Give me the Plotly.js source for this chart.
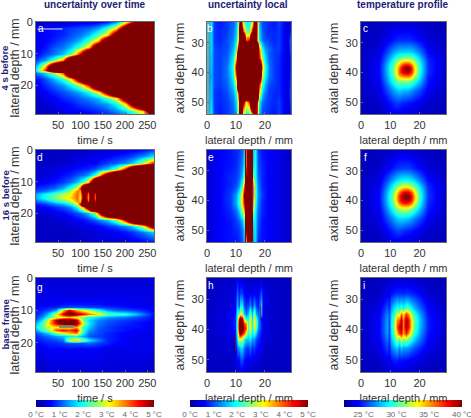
<!DOCTYPE html>
<html><head><meta charset="utf-8">
<script src="https://cdn.plot.ly/plotly-3.0.0.min.js"></script>
<style>html,body{margin:0;padding:0;background:#fff}#c{width:471px;height:418px}</style></head>
<body><div id="c"></div>
<script>
const S=9;
const colTitles=["uncertainty over time","uncertainty local","temperature profile"];
const rowTitles=["4 s before","16 s before","base frame"];
const letters=["a","b","c","d","e","f","g","h","i"];
const timeTicks=[50,100,150,200,250];
const depthTicks=[0,10,20];
const latTicks=[0,10,20];
const axialTicks=[30,40,50];
const uncTicks=[0,1,2,3,4,5];
const uncLabels=["0 °C","1 °C","2 °C","3 °C","4 °C","5 °C"];
const tempTicks=[25,30,35,40];
const tempLabels=["25 °C","30 °C","35 °C","40 °C"];

const aT=[0,20,40,60,80,100,120,140,160,180,200,220,240,265];
const aD=[0,2,4,6,8,10,12,14,15,16,18,20,22,24,26,28,29];
const aZ=[
[.3,.3,.3,.3,.4,.5,.5,.6,.8,1.3,2.8,5,8,S],
[.5,.6,.7,.8,.9,1,1.1,1.4,2.1,3.2,6,S,S,S],
[.5,.6,.7,.8,1,1.2,1.6,2.3,3.3,6,S,S,S,S],
[.5,.6,.8,1,1.2,1.6,2.3,3.5,7,S,S,S,S,S],
[.5,.7,1,1.2,1.6,2.3,3.4,7,S,S,S,S,S,S],
[.6,.9,1.2,1.6,2.3,4.5,8,S,S,S,S,S,S,S],
[.9,1.4,2.3,3.7,8,S,S,S,S,S,S,S,S,S],
[1.5,3.3,7,S,S,S,S,S,S,S,S,S,S,S],
[1.9,4.2,8,S,S,S,S,S,S,S,S,S,S,S],
[1.1,1.7,2.6,4,8,S,S,S,S,S,S,S,S,S],
[.6,1,1.5,2.1,3.2,6,S,S,S,S,S,S,S,S],
[.5,.8,1.1,1.4,1.9,2.7,4.5,8,S,S,S,S,S,S],
[.4,.6,.8,1,1.2,1.5,2,3,5.5,S,S,S,S,S],
[.3,.5,.6,.8,.9,1.1,1.3,1.6,2.2,3.1,6,S,S,S],
[.3,.4,.5,.6,.7,.9,1,1.2,1.4,1.9,3.1,6,S,S],
[.3,.3,.4,.5,.6,.6,.7,.8,1,1.3,1.7,2.4,3.4,8],
[.3,.3,.4,.4,.5,.5,.6,.7,.8,1,1.4,2,3,6]];
const aLineT=[4,60];
const aLineD=[2.2,2.2];

const dT=[0,20,40,60,80,92,100,108,116,124,132,140,160,180,200,220,240,265];
const dD=[0,2,4,6,8,10,12,13,14,15,16,17,18,20,22,24,26,29];
const dZ=[
[.3,.3,.3,.3,.3,.3,.3,.3,.3,.4,.4,.4,.4,.4,.5,.6,.7,1],
[.3,.3,.3,.3,.4,.4,.4,.4,.4,.5,.5,.5,.6,.7,.8,1,1.3,1.8],
[.3,.3,.3,.4,.4,.5,.5,.5,.6,.6,.6,.7,.9,1.1,1.3,1.8,2.8,4.5],
[.3,.4,.4,.5,.6,.7,.7,.8,.8,.9,1,1.2,1.6,2.4,4.5,8,S,S],
[.4,.4,.5,.7,.8,1,1.1,1.2,1.4,1.7,2.2,3,6,S,S,S,S,S],
[.5,.6,.7,.9,1.2,1.6,1.9,2.4,3.2,5,8,S,S,S,S,S,S,S],
[.8,.9,1.1,1.5,2.2,3,4.2,8,S,S,S,S,S,S,S,S,S,S],
[1,1.2,1.6,2,2.8,3.8,3.6,7,4.6,7,5.5,S,S,S,S,S,S,S],
[1.5,1.9,2.3,2.8,3.2,3.9,3.3,6,3.8,6,4.2,S,S,S,S,S,S,S],
[1.5,2,2.4,2.9,3.3,3.9,3.1,6,3.6,6,4,S,S,S,S,S,S,S],
[1.1,1.4,1.9,2.3,2.9,3.7,3.4,7,4,7,4.6,S,S,S,S,S,S,S],
[.7,.9,1.2,1.5,2,3,4.5,8,S,S,S,S,S,S,S,S,S,S],
[.5,.6,.8,1,1.3,2,2.8,4,6,S,S,S,S,S,S,S,S,S],
[.4,.4,.5,.6,.8,1,1.1,1.3,1.6,2,2.6,4,8,S,S,S,S,S],
[.3,.3,.4,.4,.5,.6,.6,.7,.8,.9,1,1.2,1.6,2.4,4.5,8,S,S],
[.3,.3,.3,.3,.4,.4,.4,.5,.5,.5,.6,.6,.8,1,1.3,1.8,3,6],
[.3,.3,.3,.3,.3,.3,.4,.4,.4,.4,.4,.5,.5,.6,.7,.9,1.2,1.7],
[.3,.3,.3,.3,.3,.3,.3,.3,.3,.3,.4,.4,.4,.4,.4,.5,.6,.7]];

const gT=[0,15,30,45,60,75,90,105,120,140,160,180,200,225,250,265];
const gD=[0,6,8,9,10,11,12,13,14,15,16,17,18,19,20,22,29];
const gZ=[
[.4,.4,.4,.4,.4,.4,.4,.4,.4,.4,.4,.4,.4,.4,.4,.4],
[.5,.5,.5,.5,.5,.5,.5,.5,.5,.5,.5,.5,.5,.5,.5,.5],
[.5,.5,.6,.6,.7,.7,.7,.7,.7,.7,.6,.6,.6,.5,.5,.5],
[.6,.7,.7,.8,.9,1,1,1,.9,.9,.8,.8,.7,.6,.6,.5],
[.7,.8,1,1.4,3.4,4.6,3.6,3,2.6,2,1.4,1.1,1,.9,.7,.6],
[.8,1,1.7,3,4.6,5.5,5,4.4,3.8,3.2,2.5,2.2,2.1,1.6,1,.7],
[.9,1.3,2.2,2.8,3.2,3.4,3,2.4,2,1.7,1.4,1.3,1.2,1,.8,.6],
[1.1,1.8,3.2,4.8,5.5,5.5,4.8,2.4,1.7,1.3,1.1,1,.9,.8,.7,.6],
[1.5,2.2,3.4,4.6,5.5,6,5.2,3,1.8,1.2,1,.9,.8,.7,.6,.6],
[1.8,2.4,2.9,3.2,3,3,3.6,2.2,1.6,1.1,.9,.8,.7,.7,.6,.6],
[1.4,2.1,2.8,4,4.4,4.1,4.6,2.1,1.4,1,.9,.8,.7,.6,.6,.5],
[1,1.3,1.7,2.5,3,3.4,3.8,1.9,1.2,1,.8,.7,.6,.6,.5,.5],
[.8,1,1.2,1.4,1.6,1.8,1.9,1.4,1,.9,.8,.7,.6,.5,.5,.5],
[.7,.8,.9,1,1.2,3,3.4,2.6,1.8,1.3,.8,.7,.6,.5,.5,.5],
[.6,.7,.8,.8,.9,1,1,1,1.1,.9,.8,.6,.6,.5,.5,.5],
[.5,.5,.6,.6,.6,.6,.6,.6,.6,.6,.5,.5,.5,.5,.5,.5],
[.3,.3,.4,.4,.4,.4,.4,.4,.4,.4,.4,.4,.4,.4,.3,.3]];
const gGreyT=[52,86];
const gGreyD=[15,15];

const bX=[0,.6,1.5,2.5,4,7,9,10,10.8,11.5,12.5,13.5,14.5,15.5,16.5,17.3,18,19,20,21.5,23,25,27,28,29];
const bY=[23,26,29,32,35,38,41,44,47,50,54];
const bZ=[
[1.8,1.5,1.8,.9,.7,.9,1.1,1.5,2.4,6,2.6,1.9,1.9,2.8,6,4,1.6,1,.9,.8,.7,.9,.6,.4,.8],
[1.8,1.5,1.7,.9,.8,.9,1.2,1.6,2.8,8,4.2,2.4,2.2,4.5,7,4,1.7,1.1,.9,.8,.8,.9,.5,.4,.9],
[1.8,1.5,1.7,.9,.8,1,1.3,1.8,3.2,S,S,4,4.5,S,S,3.8,1.8,1.2,1,.9,.8,.9,.5,.5,1.4],
[1.8,1.4,1.7,1,.9,1,1.5,2.2,5,S,S,S,S,S,S,S,4,2,1.4,1.1,.9,.9,.5,.4,1.3],
[1.7,1.4,1.6,1,.9,1.1,1.8,3.6,S,S,S,S,S,S,S,S,4.5,2.6,1.7,1.1,.9,.8,.5,.4,1],
[1.7,1.3,1.6,1,.9,1.2,2,5,S,S,S,S,S,S,S,S,S,3.8,2,1.2,.9,.8,.5,.4,1],
[1.6,1.2,1.5,1,.9,1.2,1.9,4.2,S,S,S,S,S,S,S,S,S,3,1.9,1.2,.9,.8,.5,.4,1.1],
[1.7,1.3,1.6,1,.9,1.1,1.7,2.8,S,S,S,S,S,S,S,S,4.5,2.2,1.5,1,.9,.8,.5,.4,1.2],
[1.7,1.4,1.6,.9,.8,1,1.4,2,4.2,S,S,S,S,S,S,S,3.5,1.7,1.2,.9,.8,.8,.5,.4,1.4],
[1.8,1.4,1.7,.9,.8,.9,1.2,1.7,3.2,S,5,3.2,4.2,S,S,4.5,1.9,1.2,1,.9,.8,.9,.5,.4,1.2],
[1.8,1.5,1.8,.9,.7,.9,1.1,1.5,2.6,8,3,2,2,3.5,8,4.2,1.6,1,.9,.8,.7,.9,.5,.4,.9]];
const bEdgeX=[.4,.4];
const bEdgeY=[23,54];

const eX=[0,4,8,10,11,12,12.6,13,13.6,14.2,14.8,15.4,16,16.6,17.5,19,21,24,29];
const eY=[23,28,32,35,38,41,44,47,50,54];
const eZ=[
[.4,.6,.7,.8,.9,1.1,1.6,S,4,S,S,S,1.6,2,.9,.7,.6,.5,.3],
[.4,.6,.7,.8,1,1.3,1.8,S,4,S,S,S,1.7,2,1,.8,.6,.5,.3],
[.4,.6,.8,.9,1.1,1.6,2.5,S,5,S,S,S,2.4,2,1.1,.8,.6,.5,.3],
[.4,.6,.8,1,1.4,2.2,4,S,S,S,S,S,4.5,2.2,1.2,.8,.6,.5,.3],
[.4,.6,.9,1.4,2.1,3.2,5,S,S,S,S,S,4.5,2.3,1.3,.9,.6,.5,.3],
[.4,.6,.9,1.5,2.2,3.3,4.5,S,S,S,S,S,3.8,2.1,1.2,.8,.6,.5,.3],
[.4,.6,.8,1.1,1.6,2.4,3.5,S,S,S,S,S,2.5,1.9,1.1,.8,.6,.5,.3],
[.4,.6,.7,.9,1.1,1.5,2.2,S,S,S,S,S,1.8,1.8,1,.7,.6,.5,.3],
[.4,.6,.7,.8,.9,1.2,1.7,S,5,S,S,S,1.6,1.8,.9,.7,.6,.5,.3],
[.4,.6,.7,.7,.8,1,1.5,S,3.5,S,S,S,1.5,1.7,.8,.7,.6,.5,.3]];
const eGreyX=[16,16];
const eGreyY=[33,43];

const hX=[0,8,9.5,10.2,10.9,11.5,12.1,12.8,13.5,14.2,14.9,15.5,16.1,16.8,17.5,18.5,19.3,21,25,29];
const hY=[23,28,32,35,36.5,38,39.5,41,43,46,50,54];
const hZ=[
[.3,.3,.3,.6,.4,.4,.4,.4,.3,.3,.3,.3,.3,.3,.3,.3,.3,.3,.3,.3],
[.3,.4,.5,1.1,.7,.9,.9,.6,.5,.5,.6,.5,.6,.5,.5,1,.5,.4,.3,.3],
[.3,.4,.6,1.5,1,1.8,1.8,1,.8,.9,1.3,.8,1.4,.9,.7,1.6,.5,.4,.3,.3],
[.3,.5,.7,2,2.4,3,2.8,1.6,1.2,1.6,2.4,1.6,2.6,1.5,1.1,1.4,.5,.4,.3,.3],
[.3,.5,.8,2.2,4.8,5.5,5,3,2,2,3.2,1.8,3.2,2.2,1.4,.6,.5,.4,.3,.3],
[.3,.5,.8,2.4,5.5,6,5.5,4,3.6,2.2,3.2,1.9,3.2,2.4,1.4,.8,.5,.4,.3,.3],
[.3,.5,.8,2.4,5.5,6,5.5,4.5,4,2.2,3.2,1.9,3,2.2,1.3,.8,.5,.4,.3,.3],
[.3,.5,.7,2.2,4.5,5.2,4.5,4,3,2,2.6,1.8,2.2,1.6,1,.7,.5,.4,.3,.3],
[.3,.4,.4,1.8,3,3,2.8,2,1.6,1.6,1.8,1.4,1.4,1,.8,.6,.4,.4,.3,.3],
[.3,.4,.2,1.2,1.4,1.6,1.7,1.2,.9,.9,1.1,.8,.9,.7,.6,.5,.4,.3,.3,.3],
[.3,.3,.4,.6,.6,.9,1,.7,.6,.5,.6,.5,.5,.4,.4,.4,.3,.3,.3,.3],
[.3,.3,.3,.4,.4,.5,.5,.4,.4,.3,.4,.3,.3,.3,.3,.3,.3,.3,.3,.3]];
const hDarkAX=[9.8,9.8];
const hDarkAY=[41,47];
const hDarkBX=[18.5,18.5];
const hDarkBY=[32,36];

const cX=[0,6,9,11,12,13,14,15,16,17,18,20,23,29];
const cY=[23,29,33,35,37,38,39,40,41,43,46,50,54];
const cZ=[
[22.8,23,23.1,23.2,23.3,23.3,23.3,23.3,23.3,23.3,23.2,23.1,23,22.8],
[22.9,23.2,24,24.5,24.8,25,25,25,25,24.9,24.7,24.2,23.4,23],
[23,23.6,25.5,27,27.5,27.9,28,28.1,28.1,28,27.6,26.3,24.2,23.1],
[23,24,26.5,28.5,29.6,30.5,31,31.2,31.2,31,30,27.8,24.8,23.2],
[23,24.2,27.4,30,32,34,36,37,37,35.5,33,28.8,25,23.2],
[23,24.3,27.6,30.5,32.8,35.5,38,39.5,39.5,37.5,34,29,25,23.2],
[23,24.3,27.6,30.6,33,36,38.6,40,40,38,34.2,29,25,23.2],
[23,24.3,27.6,30.5,33,36,38,39,39,37.5,33.8,28.8,25,23.2],
[23,24.2,27.4,30.2,32.6,35,36,36.5,36.8,35.5,32.8,28.5,24.8,23.1],
[23,24,26.8,29.2,30.5,31,31,31,31,30.5,29.5,27.4,24.5,23.1],
[23,23.7,25.5,27,27.5,28,27.8,27.5,27.5,27,26.4,25.5,24,23],
[22.9,23.3,24.2,25,25.4,25.3,25,24.9,24.7,24.6,24.3,23.9,23.3,23],
[22.8,23,23.4,23.8,23.9,23.8,23.6,23.4,23.4,23.3,23.2,23.1,22.9,22.8]];

const fX=[0,6,9,11,12,13,14,15,16,17,18,20,23,29];
const fY=[23,29,33,35,37,38,39,40,41,43,46,50,54];
const fZ=[
[22.8,23,23.1,23.2,23.3,23.4,23.4,23.4,23.4,23.3,23.2,23.1,23,22.8],
[22.9,23.2,24,24.6,25,25.2,25.3,25.3,25.3,25.1,24.8,24.2,23.4,23],
[23,23.7,25.6,27.2,28,28.5,28.8,28.9,28.8,28.5,27.8,26.4,24.3,23.1],
[23,24,26.6,29,30.4,31.6,32.4,32.8,32.6,31.8,30.6,28,24.9,23.2],
[23,24.2,27.5,30.6,33,35.5,37.5,38.4,38.2,36.5,33.8,29,25.1,23.2],
[23,24.3,27.8,31,33.8,36.8,38.8,39.8,39.6,38,34.6,29.3,25.1,23.2],
[23,24.3,27.8,31.2,34,37,39,40,39.8,38.2,34.8,29.3,25.1,23.2],
[23,24.3,27.8,31,33.8,36.8,38.6,39.4,39.2,37.8,34.4,29,25,23.2],
[23,24.2,27.5,30.6,33,35.5,37,37.5,37.2,36,33.2,28.7,24.9,23.1],
[23,24,26.8,29.2,30.6,31.6,32,32,31.8,31,29.8,27.5,24.6,23.1],
[23,23.7,25.5,27,27.7,28.2,28.2,28,27.8,27.3,26.6,25.6,24,23],
[22.9,23.3,24.2,25,25.4,25.5,25.3,25,24.9,24.7,24.4,23.9,23.3,23],
[22.8,23,23.4,23.8,23.9,23.8,23.6,23.4,23.4,23.3,23.2,23.1,22.9,22.8]];

const iX=[0,6,9,9.7,10.2,10.8,11.5,12.2,12.8,13.5,14.4,15.2,16,17,18,20,23,29];
const iY=[23,28,31,33,35,37,39,41,43,46,50,54];
const iZ=[
[22.8,22.9,23,23.1,23.1,23.2,23.2,23.2,23.2,23.2,23.2,23.2,23.2,23.1,23.1,23,22.9,22.8],
[22.9,23.1,23.9,23.6,24.4,24.6,24.8,25,24.9,25,24.8,25,25,24.8,24.6,24.1,23.3,22.9],
[23,23.4,25,24.4,26,26.6,27.2,27.6,27.2,27.8,27.2,28,27.8,27,26.4,25.2,23.8,23],
[23,23.7,25.8,25,27,27.8,28.6,29.4,29,30,29,30.6,30,28.8,27.6,26,24.2,23],
[23,24,26.6,25.4,28,29,30.6,33,32.4,36,33.5,37,35.5,32,29.6,27,24.5,23.1],
[23,24.2,27,25.6,28.5,29.8,32.4,35.5,36,39,35.5,39.5,38,34,30.5,27.6,24.7,23.1],
[23,24.2,27.2,25.6,28.6,30,33,36.5,38.5,39.5,35.5,39.8,38,34,30.4,27.4,24.7,23.1],
[23,24.2,27,25.4,28.3,29.6,32,34.5,37,38,35,37.5,35.5,32.4,29.6,27,24.5,23.1],
[23,24,26.3,25,27.6,28.6,30,32,30,33,31,32,30.6,29.4,28,26.2,24.2,23],
[23,23.7,25.3,24.6,26.2,26.8,27.4,27.8,26.6,27.6,27,27,26.8,26.2,25.6,24.8,23.8,23],
[22.9,23.2,24,23.8,24.4,24.6,24.8,24.8,24.4,24.6,24.4,24.4,24.2,24,23.9,23.6,23.2,22.9],
[22.8,23,23.2,23.2,23.4,23.4,23.4,23.4,23.3,23.3,23.3,23.3,23.2,23.2,23.1,23,22.9,22.8]];

const W=471,H=418;
const jet=[[0,'#00008f'],[.125,'#0000ff'],[.375,'#00ffff'],[.625,'#ffff00'],[.875,'#ff0000'],[1,'#800000']];
const colX=[[36,154],[207,291],[361,446]];
const rowY=[[22,114],[150,242],[278,372]];
const letterPos=[[41,29],[210,28],[365,29],[40,157],[211,157],[365,157],[40,287],[211,285],[364,285]];
const barX=[[36,154],[190,308],[344,462]];
const txt='#333';
const font='"Liberation Sans",Arial,sans-serif';
const navy='#1b1b78';

const panels=[[aT,aD,aZ],[bX,bY,bZ],[cX,cY,cZ],[dT,dD,dZ],[eX,eY,eZ],[fX,fY,fZ],[gT,gD,gZ],[hX,hY,hZ],[iX,iY,iZ]];
const layout={width:W,height:H,margin:{l:0,r:0,t:0,b:0,autoexpand:false},paper_bgcolor:'#fff',plot_bgcolor:'#0000c0',
  showlegend:false,font:{family:font,color:txt,size:11},annotations:[]};
const traces=[];
panels.forEach((p,k)=>{
  const r=Math.floor(k/3),c=k%3,id=k+1,sfx=id===1?'':id;
  const isTemp=c===2;
  const tr={type:'heatmap',x:p[0],y:p[1],z:p[2],xaxis:'x'+sfx,yaxis:'y'+sfx,zsmooth:'best',colorscale:jet,
    zmin:isTemp?22:0,zmax:isTemp?40:5,showscale:r===2,hoverinfo:'skip'};
  if(r===2){
    tr.colorbar={orientation:'h',lenmode:'pixels',len:barX[c][1]-barX[c][0],thickness:7,thicknessmode:'pixels',
      x:barX[c][0]/W,xanchor:'left',y:2/H,yanchor:'bottom',xpad:0,ypad:0,outlinewidth:0,ticks:'',ticklen:0,tickangle:0,
      ticklabeloverflow:'allow',
      tickvals:isTemp?tempTicks:uncTicks,ticktext:isTemp?tempLabels:uncLabels,
      tickfont:{size:8,color:'#666',family:font}};
  }
  traces.push(tr);
  const xb={domain:[colX[c][0]/W,colX[c][1]/W],anchor:'y'+sfx,mirror:true,showline:true,linecolor:'#667',linewidth:1,tickangle:0,
    ticks:'inside',ticklen:2,tickcolor:'#667',showgrid:false,zeroline:false,tickfont:{size:11,color:txt},ticklabelstandoff:1,
    title:{font:{size:11,color:txt},standoff:6}};
  const yb={domain:[1-rowY[r][1]/H,1-rowY[r][0]/H],anchor:'x'+sfx,mirror:true,showline:true,linecolor:'#667',linewidth:1,tickangle:0,
    ticks:'inside',ticklen:2,tickcolor:'#667',showgrid:false,zeroline:false,tickfont:{size:11,color:txt},
    title:{font:{size:12.4,color:txt},standoff:4}};
  if(c===0){
    xb.range=[.5,265];xb.tickvals=timeTicks;xb.title.text='time / s';
    yb.range=[29,0];yb.tickvals=depthTicks;
    layout.annotations.push({xref:'paper',yref:'paper',x:14.5/W,y:1-((rowY[r][0]+rowY[r][1])/2)/H,text:'lateral depth / mm',showarrow:false,textangle:-90,
      font:{size:12.4,color:txt,family:font},xanchor:'center',yanchor:'middle'});
  }else{
    xb.range=[0,29];xb.tickvals=latTicks;xb.title.text='lateral depth / mm';
    yb.range=[54,23];yb.tickvals=axialTicks;yb.title.text='axial depth / mm';
  }
  layout['xaxis'+sfx]=xb;layout['yaxis'+sfx]=yb;
  layout.annotations.push({xref:'paper',yref:'paper',x:letterPos[k][0]/W,y:1-letterPos[k][1]/H,text:letters[k],showarrow:false,
    font:{size:10,color:'#fff',family:font},xanchor:'center',yanchor:'middle'});
});
function overlay(x,y,n,color,width){
  const s=n===1?'':n;
  traces.push({type:'scatter',mode:'lines',x:x,y:y,xaxis:'x'+s,yaxis:'y'+s,line:{color:color,width:width},hoverinfo:'skip',showlegend:false});
}
overlay(aLineT,aLineD,1,'rgba(235,245,245,.95)',1);
overlay(bEdgeX,bEdgeY,2,'rgba(120,165,150,.75)',3);
overlay(eGreyX,eGreyY,5,'rgba(190,190,170,.8)',1);
overlay(gGreyT,gGreyD,7,'rgba(130,130,100,.9)',3);
overlay(hDarkAX,hDarkAY,8,'rgba(110,30,70,.8)',1);
overlay(hDarkBX,hDarkBY,8,'rgba(150,20,40,.8)',1);
[95,248,403].forEach((x,i)=>layout.annotations.push({xref:'paper',yref:'paper',x:x/W,y:1-4/H,text:colTitles[i],showarrow:false,
  font:{size:10,color:navy,family:font,weight:700},xanchor:'center',yanchor:'middle'}));
[68,196,325].forEach((y,i)=>layout.annotations.push({xref:'paper',yref:'paper',x:4.5/W,y:1-y/H,text:rowTitles[i],showarrow:false,textangle:-90,
  font:{size:9.5,color:navy,family:font,weight:700},xanchor:'center',yanchor:'middle'}));
Plotly.newPlot('c',traces,layout,{displayModeBar:false,staticPlot:true});
</script></body></html>
